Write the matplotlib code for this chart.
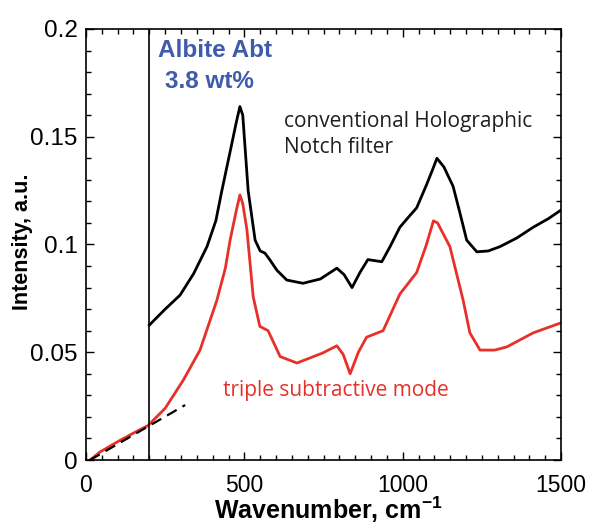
import matplotlib
matplotlib.use("Agg")
import matplotlib.pyplot as plt
from matplotlib.ticker import MultipleLocator

plt.rcParams["mathtext.fontset"] = "custom"
plt.rcParams["mathtext.rm"] = "Liberation Sans:bold"
plt.rcParams["mathtext.bf"] = "Liberation Sans:bold"

# Conventional holographic notch filter spectrum (black)
notch_wn = [200, 250, 297, 340, 382, 410, 429, 455, 475, 486, 495, 512, 534, 550, 565, 580,
            603, 634, 685, 740, 792, 815, 840, 865, 890, 934, 960, 991, 1020, 1044, 1076,
            1095, 1108, 1130, 1159, 1180, 1202, 1234, 1270, 1307, 1360, 1412, 1460, 1500]
notch_int = [0.0626, 0.070, 0.0765, 0.0865, 0.099, 0.111, 0.125, 0.143, 0.157, 0.164, 0.160,
             0.125, 0.102, 0.097, 0.096, 0.093, 0.088, 0.0835, 0.082, 0.084, 0.089, 0.086,
             0.080, 0.087, 0.093, 0.092, 0.099, 0.108, 0.113, 0.117, 0.128, 0.135, 0.140,
             0.136, 0.127, 0.115, 0.102, 0.0966, 0.097, 0.099, 0.103, 0.108, 0.112, 0.116]

# Triple subtractive mode spectrum (red)
triple_wn = [13, 44, 100, 150, 196, 250, 307, 360, 413, 440, 455, 475, 486, 495, 508, 528,
             549, 575, 613, 666, 748, 792, 812, 834, 860, 886, 938, 991, 1044, 1075, 1097,
             1110, 1149, 1191, 1212, 1244, 1290, 1329, 1412, 1497]
triple_int = [0.0, 0.0037, 0.0085, 0.0125, 0.016, 0.024, 0.037, 0.051, 0.074, 0.089, 0.102,
              0.116, 0.123, 0.119, 0.107, 0.0757, 0.062, 0.060, 0.048, 0.045, 0.0497, 0.053,
              0.049, 0.040, 0.050, 0.057, 0.060, 0.077, 0.087, 0.100, 0.111, 0.110, 0.099,
              0.074, 0.059, 0.051, 0.051, 0.0525, 0.059, 0.0635]

# Linear baseline extrapolation (dashed)
base_wn = [13, 313]
base_int = [0.0, 0.0255]

cutoff_wn = 200

xticks = [0, 500, 1000, 1500]
xtick_labels = ["0", "500", "1000", "1500"]
yticks = [0, 0.05, 0.1, 0.15, 0.2]
ytick_labels = ["0", "0.05", "0.1", "0.15", "0.2"]

fig = plt.figure(figsize=(5.95, 5.25), dpi=100)
ax = fig.add_axes([0.1445, 0.1238, 0.7985, 0.821])

ax.plot(notch_wn, notch_int, color="black", lw=2.0)
ax.plot(triple_wn, triple_int, color="#E8302A", lw=2.0)
ax.plot(base_wn, base_int, color="black", lw=1.6, ls=(0, (5, 3)))
ax.axvline(cutoff_wn, color="black", lw=1.2)

ax.set_xlim(0, 1500)
ax.set_ylim(0, 0.2)
ax.set_xticks(xticks)
ax.set_xticklabels(xtick_labels)
ax.set_yticks(yticks)
ax.set_yticklabels(ytick_labels)
ax.xaxis.set_minor_locator(MultipleLocator(50))
ax.yaxis.set_minor_locator(MultipleLocator(0.01))
ax.tick_params(which="both", direction="in", top=True, right=True, width=1.0)
ax.tick_params(which="major", length=6)
ax.tick_params(axis="x", which="major", pad=10, labelsize=16.5)
ax.tick_params(axis="y", which="major", pad=6, labelsize=17.5)
ax.tick_params(which="minor", length=3.5)
for lab in ax.get_xticklabels() + ax.get_yticklabels():
    lab.set_family("Liberation Sans")
for s in ax.spines.values():
    s.set_linewidth(1.2)

ax.set_xlabel("Wavenumber, cm$^{\\mathbf{-1}}$", fontsize=18, fontweight="bold",
              family="Liberation Sans")
ax.xaxis.label.set_verticalalignment("baseline")
ax.xaxis.set_label_coords(0.51, -0.1369)
ax.set_ylabel("Intensity, a.u.", fontsize=15.5, fontweight="bold",
              family="Liberation Sans")
ax.yaxis.set_label_coords(-0.112, 0.506)

ax.text(227, 0.187, "Albite Abt", color="#3F5BA9", fontsize=17.5,
        fontweight="bold", family="Liberation Sans", va="baseline", ha="left")
ax.text(249, 0.1726, "3.8 wt%", color="#3F5BA9", fontsize=17.5,
        fontweight="bold", family="Liberation Sans", va="baseline", ha="left")
ax.text(625, 0.1545, "conventional Holographic", color="#231F20",
        fontsize=15, family="Open Sans", va="baseline", ha="left")
ax.text(625, 0.1425, "Notch filter", color="#231F20",
        fontsize=15, family="Open Sans", va="baseline", ha="left")
ax.text(432, 0.0297, "triple subtractive mode", color="#E8302A", fontsize=15,
        family="Open Sans", va="baseline", ha="left")

fig.savefig("out.png", dpi=100)
